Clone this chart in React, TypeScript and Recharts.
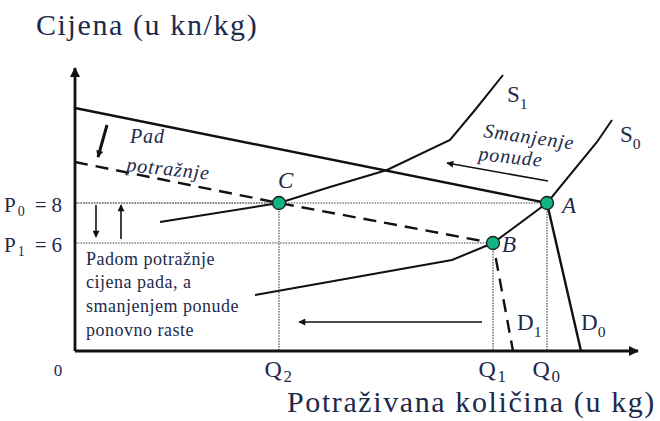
import React from 'react';
import { ComposedChart, Line, Scatter, XAxis, YAxis } from 'recharts';

// q = quantity (arbitrary units), p = price (kn/kg)
const demand0 = [
  { q: 0, p: 12.75 },
  { q: 47.2, p: 8 },
  { q: 50.6, p: 0.6 },
];
const demand1 = [
  { q: 0, p: 10.05 },
  { q: 20.4, p: 8 },
  { q: 41.8, p: 6 },
  { q: 43.8, p: 0.6 },
];
const supply0 = [
  { q: 18.0, p: 3.4 },
  { q: 37.7, p: 5.15 },
  { q: 41.8, p: 6 },
  { q: 47.2, p: 8 },
  { q: 52.2, p: 11.05 },
  { q: 53.7, p: 12.15 },
];
const supply1 = [
  { q: 8.5, p: 7.05 },
  { q: 20.4, p: 8 },
  { q: 25.5, p: 8.8 },
  { q: 31.2, p: 9.65 },
  { q: 37.5, p: 11.15 },
  { q: 40.0, p: 12.65 },
  { q: 42.8, p: 14.4 },
];

const equilibria = [
  { name: 'A', q: 47.2, p: 8 },
  { name: 'B', q: 41.8, p: 6 },
  { name: 'C', q: 20.4, p: 8 },
];

// shift arrows, [from, to]
const shiftArrows = [
  [{ q: 3.2, p: 11.9 }, { q: 2.3, p: 10.3 }],
  [{ q: 47.3, p: 9.1 }, { q: 37.2, p: 10.0 }],
  [{ q: 40.7, p: 2.05 }, { q: 22.4, p: 2.05 }],
  [{ q: 2.1, p: 7.9 }, { q: 2.1, p: 6.3 }],
  [{ q: 4.6, p: 6.2 }, { q: 4.6, p: 7.9 }],
];

const qTicks = [0, 20.4, 41.8, 47.2];
const qTickLabels = [
  { main: '0', sub: '' },
  { main: 'Q', sub: '2' },
  { main: 'Q', sub: '1' },
  { main: 'Q', sub: '0' },
];
const pTicks = [8, 6];
const pTickLabels = [
  { main: 'P', sub: '0', rest: '= 8' },
  { main: 'P', sub: '1', rest: '= 6' },
];

const notes = [
  { id: 'pad', kind: 'slant', text: 'Pad', sub: '', q: 5.5, p: 11.0 },
  { id: 'potraznje', kind: 'slant', text: 'potražnje', sub: '', q: 5.1, p: 9.6 },
  { id: 'smanjenje', kind: 'slant', text: 'Smanjenje', sub: '', q: 40.8, p: 11.3 },
  { id: 'ponude', kind: 'slant', text: 'ponude', sub: '', q: 40.3, p: 10.15 },
  { id: 's1', kind: 'curve', text: 'S', sub: '1', q: 43.2, p: 13.05 },
  { id: 's0', kind: 'curve', text: 'S', sub: '0', q: 54.5, p: 11.05 },
  { id: 'd1', kind: 'curve', text: 'D', sub: '1', q: 44.2, p: 1.65 },
  { id: 'd0', kind: 'curve', text: 'D', sub: '0', q: 50.6, p: 1.65 },
  { id: 'a', kind: 'point', text: 'A', sub: '', q: 48.7, p: 7.5 },
  { id: 'b', kind: 'point', text: 'B', sub: '', q: 42.7, p: 5.55 },
  { id: 'c', kind: 'point', text: 'C', sub: '', q: 20.3, p: 8.75 },
  { id: 'l1', kind: 'para', text: 'Padom potražnje', sub: '', q: 1.1, p: 4.9 },
  { id: 'l2', kind: 'para', text: 'cijena pada, a', sub: '', q: 1.1, p: 3.75 },
  { id: 'l3', kind: 'para', text: 'smanjenjem ponude', sub: '', q: 1.1, p: 2.55 },
  { id: 'l4', kind: 'para', text: 'ponovno raste', sub: '', q: 1.1, p: 1.35 },
];

const Q_MAX = 56.3;
const P_MIN = 0.6;
const P_MAX = 14.75;

const SERIF = '"Liberation Serif", "Times New Roman", serif';
const INK = '#1d2a4a';
const LINE = '#111';

const noteStyle: Record<string, { size: number; italic: boolean; spacing: number }> = {
  slant: { size: 20, italic: true, spacing: 0.9 },
  curve: { size: 23, italic: false, spacing: 0 },
  point: { size: 23, italic: true, spacing: 0 },
  para: { size: 18, italic: false, spacing: 0.5 },
};
const noteAngle: Record<string, number> = { potraznje: 6, smanjenje: 8, ponude: 6 };

const NoteShape = (props: any) => {
  const { cx, cy, payload } = props;
  const st = noteStyle[payload.kind];
  const angle = noteAngle[payload.id] || 0;
  return (
    <text
      x={cx}
      y={cy}
      fontFamily={SERIF}
      fontSize={st.size}
      fontStyle={st.italic ? 'italic' : 'normal'}
      letterSpacing={st.spacing}
      fill={INK}
      transform={angle ? `rotate(${angle} ${cx} ${cy})` : undefined}
    >
      {payload.text}
      {payload.sub ? (
        <tspan dy={st.size * 0.3} fontSize={st.size * 0.68}>
          {payload.sub}
        </tspan>
      ) : null}
    </text>
  );
};

const PointShape = (props: any) => (
  <circle cx={props.cx} cy={props.cy} r={6.5} fill="#12b383" stroke="#1a1a1a" strokeWidth={1.3} />
);

const renderQTick = (props: any) => {
  const { x, y, payload } = props;
  const lab = qTickLabels[qTicks.indexOf(payload.value)];
  if (!lab) return <g />;
  if (lab.main === '0') {
    return (
      <text x={x - 17} y={y + 17} textAnchor="middle" fontFamily={SERIF} fontSize={17} fill={INK}>
        0
      </text>
    );
  }
  return (
    <text x={x} y={y + 18} textAnchor="middle" fontFamily={SERIF} fontSize={24} letterSpacing={1.5} fill={INK}>
      {lab.main}
      <tspan dy={5} fontSize={17}>
        {lab.sub}
      </tspan>
    </text>
  );
};

const renderPTick = (props: any) => {
  const { x, y, payload } = props;
  const lab = pTickLabels[pTicks.indexOf(payload.value)];
  if (!lab) return <g />;
  const [eq, val] = lab.rest.split(' ');
  return (
    <text x={x - 5} y={y + 9} textAnchor="end" fontFamily={SERIF} fontSize={21} fill={INK}>
      {lab.main}
      <tspan dx={2} dy={4} fontSize={14}>
        {lab.sub}
      </tspan>
      <tspan dx={10} dy={-4}>
        {eq}
      </tspan>
      <tspan dx={5}>{val}</tspan>
    </text>
  );
};

export default function App() {
  const xAxisLine = [{ q: 0, p: P_MIN }, { q: Q_MAX, p: P_MIN }];
  const yAxisLine = [{ q: 0, p: P_MIN }, { q: 0, p: P_MAX }];

  // dotted guides from each equilibrium to both axes
  const guides = equilibria.flatMap((e) => [
    [{ q: 0, p: e.p }, { q: e.q, p: e.p }],
    [{ q: e.q, p: e.p }, { q: e.q, p: P_MIN }],
  ]);

  const lineProps = {
    dataKey: 'p',
    type: 'linear' as const,
    dot: false,
    activeDot: false,
    isAnimationActive: false,
    legendType: 'none' as const,
  };

  return (
    <div style={{ width: 660, height: 421, background: '#fff' }}>
      <style>{'body{margin:0}'}</style>
      <ComposedChart width={660} height={421} margin={{ top: 68, right: 22, bottom: 40, left: 15 }}>
        <defs>
          <marker id="arrowBig" viewBox="0 0 10 10" refX="9" refY="5" markerWidth="13" markerHeight="10" markerUnits="userSpaceOnUse" orient="auto">
            <path d="M0,0 L10,5 L0,10 z" fill={LINE} />
          </marker>
          <marker id="arrowSmall" viewBox="0 0 10 10" refX="9" refY="5" markerWidth="8" markerHeight="7" markerUnits="userSpaceOnUse" orient="auto">
            <path d="M0,0 L10,5 L0,10 z" fill={LINE} />
          </marker>
        </defs>
        <text x={36} y={35} fontFamily={SERIF} fontSize={30} letterSpacing={1.6} fill={INK}>
          Cijena (u kn/kg)
        </text>
        <text x={287} y={412} fontFamily={SERIF} fontSize={30} letterSpacing={1.6} fill={INK}>
          Potraživana količina (u kg)
        </text>
        <XAxis
          type="number"
          dataKey="q"
          domain={[0, Q_MAX]}
          ticks={qTicks}
          height={30}
          axisLine={false}
          tickLine={false}
          tick={renderQTick}
          interval={0}
        />
        <YAxis
          type="number"
          dataKey="p"
          domain={[P_MIN, P_MAX]}
          ticks={pTicks}
          width={60}
          axisLine={false}
          tickLine={false}
          tick={renderPTick}
          interval={0}
        />

        {guides.map((g, i) => (
          <Line key={`g${i}`} {...lineProps} data={g} stroke="#808080" strokeWidth={1.7} strokeDasharray="1.5 1.2" />
        ))}

        <Line {...lineProps} data={xAxisLine} stroke={LINE} strokeWidth={2.8} markerEnd="url(#arrowBig)" />
        <Line {...lineProps} data={yAxisLine} stroke={LINE} strokeWidth={2.8} markerEnd="url(#arrowBig)" />

        <Line {...lineProps} data={demand0} stroke={LINE} strokeWidth={2.4} />
        <Line {...lineProps} data={demand1} stroke={LINE} strokeWidth={2.4} strokeDasharray="13 8" />
        <Line {...lineProps} data={supply0} stroke={LINE} strokeWidth={2} />
        <Line {...lineProps} data={supply1} stroke={LINE} strokeWidth={2} />

        {shiftArrows.map((a, i) => (
          <Line
            key={`a${i}`}
            {...lineProps}
            data={a}
            stroke={LINE}
            strokeWidth={i === 0 ? 3 : 1.6}
            markerEnd="url(#arrowSmall)"
          />
        ))}

        <Scatter data={equilibria} dataKey="p" shape={<PointShape />} isAnimationActive={false} legendType="none" />
        <Scatter data={notes} dataKey="p" shape={<NoteShape />} isAnimationActive={false} legendType="none" />
      </ComposedChart>
    </div>
  );
}
